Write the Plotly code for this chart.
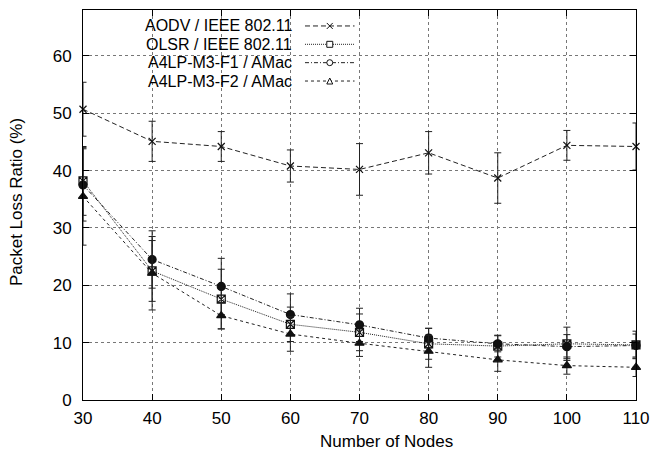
import plotly.graph_objects as go

nodes = [30, 40, 50, 60, 70, 80, 90, 100, 110]

aodv = [50.7, 45.1, 44.2, 40.8, 40.2, 43.1, 38.7, 44.4, 44.2]
aodv_err = [4.7, 3.5, 2.6, 2.8, 4.5, 3.7, 4.4, 2.6, 4.1]

olsr = [38.2, 22.5, 17.6, 13.2, 11.8, 9.8, 9.4, 9.8, 9.6]
olsr_err = [6.0, 5.3, 5.2, 3.0, 3.2, 2.7, 1.9, 2.9, 2.4]

f1 = [37.5, 24.5, 19.8, 14.9, 13.1, 10.8, 9.8, 9.3, 9.5]
f1_err = [6.3, 5.0, 4.9, 3.6, 2.9, 1.7, 1.4, 2.1, 2.0]

f2 = [35.5, 22.1, 14.7, 11.5, 9.9, 8.5, 7.0, 6.0, 5.7]
f2_err = [8.5, 6.4, 2.3, 3.0, 2.3, 2.8, 2.0, 1.5, 1.6]

y_ticks = [0, 10, 20, 30, 40, 50, 60]

names = ["AODV / IEEE 802.11", "OLSR / IEEE 802.11", "A4LP-M3-F1 / AMac", "A4LP-M3-F2 / AMac"]
dashes = ["5px,3px", "1px,1px", "4px,2px,1px,2px", "3px,3px"]
symbols = ["x-thin-open", "square-x-open", "circle", "triangle-up"]
sizes = [7, 8, 8, 8]
series = [aodv, olsr, f1, f2]
errors = [aodv_err, olsr_err, f1_err, f2_err]

FONT = "Liberation Sans, Arial, Helvetica, sans-serif"
fig = go.Figure()
for name, ys, err, dash, sym, sz in zip(names, series, errors, dashes, symbols, sizes):
    fig.add_trace(go.Scatter(
        x=nodes, y=ys, name=name, mode="lines+markers",
        line=dict(color="#222", width=1, dash=dash),
        marker=dict(symbol=sym, size=sz, color="#111", line=dict(color="#111", width=1.2)),
        error_y=dict(type="data", array=err, visible=True, color="#222", thickness=1, width=3.5),
        showlegend=False, cliponaxis=False,
    ))

# plot box geometry (pixels)
L, R, T, B = 83, 18, 9, 58
W, H = 659, 458
pw, ph = W - L - R, H - T - B


def px(xp):
    return (xp - L) / pw


def py(yp):
    return (H - B - yp) / ph


shapes = []
# white legend box hiding the grid
shapes.append(dict(type="rect", xref="paper", yref="paper", x0=0, x1=px(366), y0=py(88), y1=1,
                   fillcolor="white", line=dict(width=0), layer="between"))
annotations = []
rows = [25, 43.4, 61.8, 80.2]
for i, (name, dash) in enumerate(zip(names, dashes)):
    yy = py(rows[i])
    annotations.append(dict(xref="paper", yref="paper", x=px(296), y=yy, xanchor="right", yanchor="middle",
                            text=name, showarrow=False, font=dict(family=FONT, size=16, color="black")))
    shapes.append(dict(type="line", xref="paper", yref="paper", x0=px(307), x1=px(357), y0=yy, y1=yy,
                       line=dict(color="#222", width=1, dash=dash)))
    cx = px(332)
    dx, dy = 3 / pw, 3 / ph
    if i == 0:
        shapes.append(dict(type="path", xref="paper", yref="paper",
                           path=f"M {cx-dx} {yy-dy} L {cx+dx} {yy+dy} M {cx-dx} {yy+dy} L {cx+dx} {yy-dy}",
                           line=dict(color="#111", width=1)))
    elif i == 1:
        shapes.append(dict(type="rect", xref="paper", yref="paper", x0=cx - dx, x1=cx + dx, y0=yy - dy, y1=yy + dy,
                           fillcolor="white", line=dict(color="#111", width=1)))
    elif i == 2:
        shapes.append(dict(type="circle", xref="paper", yref="paper", x0=cx - dx, x1=cx + dx, y0=yy - dy, y1=yy + dy,
                           fillcolor="white", line=dict(color="#111", width=1)))
    else:
        shapes.append(dict(type="path", xref="paper", yref="paper",
                           path=f"M {cx-dx} {yy-dy} L {cx+dx} {yy-dy} L {cx} {yy+dy} Z",
                           fillcolor="white", line=dict(color="#111", width=1)))

# axis titles as annotations (placed like the reference)
annotations.append(dict(xref="paper", yref="paper", x=px(389), y=py(442), xanchor="center", yanchor="middle",
                        text="Number of Nodes", showarrow=False, font=dict(family=FONT, size=17, color="black")))
annotations.append(dict(xref="paper", yref="paper", x=px(16), y=py(202), xanchor="center", yanchor="middle",
                        textangle=-90, text="Packet Loss Ratio (%)", showarrow=False,
                        font=dict(family=FONT, size=17, color="black")))

axis_common = dict(
    showline=True, linecolor="black", linewidth=1, mirror="ticks",
    ticks="inside", ticklen=6, tickcolor="black", tickwidth=1,
    showgrid=True, gridcolor="#777", gridwidth=1, griddash="dot",
    zeroline=False,
    tickfont=dict(family=FONT, size=17, color="black"),
)

fig.update_layout(
    width=W, height=H, autosize=False,
    margin=dict(l=L, r=R, t=T, b=B, pad=0),
    plot_bgcolor="white", paper_bgcolor="white",
    xaxis=dict(range=[30, 110], tickmode="array", tickvals=nodes, ticklabelstandoff=3, **axis_common),
    yaxis=dict(range=[0, 68], tickmode="array", tickvals=y_ticks, ticklabelstandoff=7, **axis_common),
    shapes=shapes, annotations=annotations,
)

fig.write_html("out.html", config={"displayModeBar": False},
               post_script="document.body.style.margin='0';document.body.style.padding='0';")
